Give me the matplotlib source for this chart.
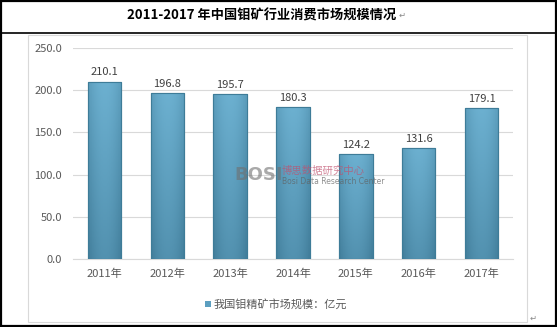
import matplotlib.pyplot as plt
import numpy as np
from matplotlib.patches import Rectangle
from matplotlib.lines import Line2D
from matplotlib.colors import LinearSegmentedColormap

plt.rcParams['font.family'] = ['Noto Sans CJK SC', 'DejaVu Sans']

years = ['2011年', '2012年', '2013年', '2014年', '2015年', '2016年', '2017年']
values = [210.1, 196.8, 195.7, 180.3, 124.2, 131.6, 179.1]
yticks = [0, 50, 100, 150, 200, 250]
title = '2011-2017 年中国钼矿行业消费市场规模情况'
series_name = '我国钼精矿市场规模：亿元'

fig = plt.figure(figsize=(5.57, 3.27), dpi=100)
fig.patch.set_facecolor('white')

# outer table frame and title row
fig.patches.append(Rectangle((0.002, 0.003), 0.996, 0.994, transform=fig.transFigure,
                             fill=False, edgecolor='black', lw=1.6))
fig.lines.append(Line2D([0.002, 0.998], [0.899, 0.899], transform=fig.transFigure,
                        color='black', lw=1.2))
# inner chart box
fig.patches.append(Rectangle((28/557, 1-322/327), (527-28)/557, (322-35)/327,
                             transform=fig.transFigure, fill=False,
                             edgecolor='#d9d9d9', lw=0.8))
t = fig.text(262/557, 1-16/327, title, ha='center', va='center', fontsize=9.5,
             fontweight='bold', color='black')
# word return marks, placed right after the title
fig.canvas.draw()
bb = t.get_window_extent()
fig.text((bb.x1 + 2)/557, 1-15/327, '↵', ha='left', va='center', fontsize=6,
         color='#888888', family=['DejaVu Sans'])
fig.text(0.957, 1-318/327, '↵', ha='center', va='center', fontsize=6,
         color='#888888', family=['DejaVu Sans'])

ax = fig.add_axes([73/557, 68/327, 440/557, 211/327])
x = np.arange(len(years))
bars = ax.bar(x, values, width=0.53, color='#5c9fc0', edgecolor='#3e7c98', lw=0.8, zorder=3)

# gradient fill for each bar
grad = np.linspace(1, 0, 64)[:, None] * np.ones((1, 16))
side = 1 - 0.5 * np.abs(np.linspace(-1, 1, 16))[None, :] ** 2
img = grad * 0.45 + side * 0.55
cmap = LinearSegmentedColormap.from_list('b', ['#437f9c', '#6cb0d0'])
for b in bars:
    im = ax.imshow(img, cmap=cmap, aspect='auto', zorder=3.5,
                   extent=[b.get_x(), b.get_x() + b.get_width(), 0, b.get_height()])
    im.set_clip_path(b)
    ax.add_patch(Rectangle((b.get_x(), 0), b.get_width(), b.get_height(), fill=False,
                           edgecolor='#3e7c98', lw=0.8, zorder=4))

for xi, v in zip(x, values):
    ax.text(xi, v + 5, f'{v:.1f}', ha='center', va='bottom', fontsize=8, color='#404040')

ax.set_xlim(-0.5, len(years) - 0.5)
ax.set_ylim(0, 250)
ax.set_yticks(yticks)
ax.set_yticklabels([f'{t:.1f}' for t in yticks])
ax.set_xticks(x)
ax.set_xticklabels(years)
ax.tick_params(axis='both', length=0, labelsize=8, colors='#595959')
ax.tick_params(axis='y', pad=8)
ax.tick_params(axis='x', pad=7)
ax.grid(axis='y', color='#d9d9d9', lw=0.8, zorder=0)
for s in ['top', 'right', 'left']:
    ax.spines[s].set_visible(False)
ax.spines['bottom'].set_color('#d9d9d9')

# watermark
fig.text(234/557, 1-175/327, 'BOSI', fontsize=13, fontweight='bold', color='#707070',
         alpha=0.6, ha='left', va='center', family=['DejaVu Sans'])
fig.text(282/557, 1-171/327, '博思数据研究中心', fontsize=7.5, color='#c0506e',
         alpha=0.7, ha='left', va='center')
fig.text(282/557, 1-182/327, 'Bosi Data Research Center', fontsize=5.5, color='#606060',
         alpha=0.7, ha='left', va='center', family=['DejaVu Sans'])

# legend
fig.patches.append(Rectangle((205/557, 1-307/327), 6/557, 6/327, transform=fig.transFigure,
                             facecolor='#5c9fc0', edgecolor='none'))
fig.text(214/557, 1-304/327, series_name, fontsize=8, color='#595959', ha='left', va='center')

fig.savefig('out.png', dpi=100)
